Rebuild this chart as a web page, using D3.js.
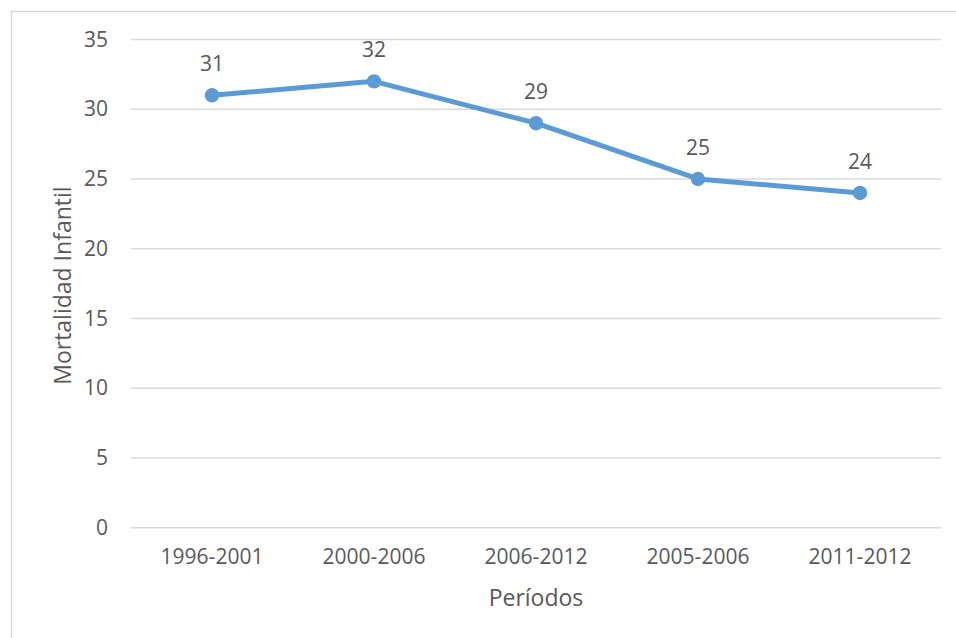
<!DOCTYPE html>
<html>
<head>
<meta charset="utf-8">
<script src="https://cdn.jsdelivr.net/npm/d3@7"></script>
<style>
  html, body { margin: 0; padding: 0; background: #fff; }
  svg { display: block; }
  text { font-family: "Open Sans", "Noto Sans", sans-serif; fill: #595959; }
</style>
</head>
<body>
<svg id="chart" width="956" height="638"></svg>
<script>
// Infant mortality by survey period
const periods = ["1996-2001", "2000-2006", "2006-2012", "2005-2006", "2011-2012"];
const mortality = [31, 32, 29, 25, 24];
const yTicks = [0, 5, 10, 15, 20, 25, 30, 35];
const yTitle = "Mortalidad Infantil";
const xTitle = "Períodos";

const W = 956, H = 638;
const margin = { left: 131, right: 15, top: 39.5, bottom: 110.3 };
const svg = d3.select("#chart");
const tickFont = 21;
const titleFont = 23;

// outer chart frame
svg.append("rect")
  .attr("x", 11.5).attr("y", 11.5)
  .attr("width", W).attr("height", H)
  .attr("fill", "none").attr("stroke", "#D9D9D9").attr("stroke-width", 1.5);

const x = d3.scaleBand()
  .domain(periods)
  .range([margin.left, W - margin.right])
  .paddingInner(0).paddingOuter(0);

const y = d3.scaleLinear()
  .domain([0, 35])
  .range([H - margin.bottom, margin.top]);

// horizontal gridlines
svg.append("g")
  .selectAll("line")
  .data(yTicks)
  .join("line")
  .attr("x1", x.range()[0]).attr("x2", x.range()[1])
  .attr("y1", d => y(d)).attr("y2", d => y(d))
  .attr("stroke", "#D9D9D9").attr("stroke-width", 1.4);

// y axis labels
const yAxis = d3.axisLeft(y).tickValues(yTicks).tickSize(0).tickPadding(23);
const gy = svg.append("g").attr("transform", `translate(${margin.left},0)`).call(yAxis);
gy.select(".domain").remove();
gy.selectAll("text").attr("font-size", tickFont).attr("fill", "#595959")
  .style("font-family", '"Open Sans", sans-serif');

// x axis labels
const xAxis = d3.axisBottom(x).tickSize(0).tickPadding(21);
const gx = svg.append("g").attr("transform", `translate(0,${y(0)})`).call(xAxis);
gx.select(".domain").remove();
gx.selectAll("text").attr("font-size", tickFont).attr("fill", "#595959")
  .style("font-family", '"Open Sans", sans-serif');

// axis titles
svg.append("text")
  .attr("transform", `translate(71,${(y(0) + y(35)) / 2 + 2}) rotate(-90)`)
  .attr("text-anchor", "middle")
  .attr("font-size", titleFont)
  .text(yTitle);

svg.append("text")
  .attr("x", (x.range()[0] + x.range()[1]) / 2)
  .attr("y", 606)
  .attr("text-anchor", "middle")
  .attr("font-size", titleFont)
  .text(xTitle);

const pts = periods.map((p, i) => ({ p, v: mortality[i] }));
const cx = d => x(d.p) + x.bandwidth() / 2;

// series line
svg.append("path")
  .datum(pts)
  .attr("fill", "none")
  .attr("stroke", "#5B9BD5")
  .attr("stroke-width", 5)
  .attr("stroke-linejoin", "round")
  .attr("d", d3.line().x(cx).y(d => y(d.v)));

// markers
svg.append("g")
  .selectAll("circle")
  .data(pts)
  .join("circle")
  .attr("cx", cx).attr("cy", d => y(d.v))
  .attr("r", 7.2)
  .attr("fill", "#5B9BD5");

// value labels
svg.append("g")
  .selectAll("text")
  .data(pts)
  .join("text")
  .attr("x", cx)
  .attr("y", d => y(d.v) - 24)
  .attr("text-anchor", "middle")
  .attr("font-size", tickFont)
  .attr("fill", "#404040")
  .text(d => d.v);
</script>
</body>
</html>
